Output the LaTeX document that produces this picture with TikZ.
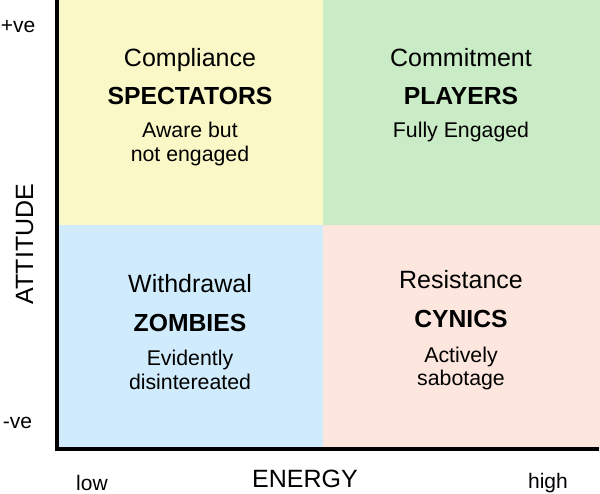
\documentclass[tikz,border=0pt]{standalone}
\usepackage{fontspec}
\setmainfont{Liberation Sans}
\usetikzlibrary{positioning,calc}

\definecolor{spectfill}{HTML}{FAF8C6}
\definecolor{playfill}{HTML}{C9EBC5}
\definecolor{zombfill}{HTML}{D0EBFC}
\definecolor{cynfill}{HTML}{FDE6DE}

\begin{document}
\begin{tikzpicture}[x=1pt, y=-1pt, every node/.style={inner sep=0pt, anchor=base}]
            \tikzstyle{mode}=[font=\fontsize{25}{30}\selectfont]
            \tikzstyle{group}=[font=\fontsize{24.7}{29}\selectfont\bfseries]
            \tikzstyle{desc}=[font=\fontsize{21.3}{25}\selectfont]
            \tikzstyle{endlabel}=[font=\fontsize{21}{25}\selectfont]
            \tikzstyle{axislabel}=[font=\fontsize{25}{30}\selectfont]
            \useasboundingbox (0,0) rectangle (600,493);
            % quadrants
            \fill[spectfill] (57,0) rectangle (323,225);
            \fill[playfill] (323,0) rectangle (600,225);
            \fill[zombfill] (57,225) rectangle (323,449);
            \fill[cynfill] (323,225) rectangle (600,449);
            % axes
            \coordinate (top) at (57,0);
            \coordinate (origin) at (57,449);
            \coordinate (right) at (599,449);
            \draw[line width=3.5pt] (top) -- (origin) -- (right);
            % top left
            \node[mode] (compl) at (190,66) {Compliance};
            \node[group] (spect) at (190,104) {SPECTATORS};
            \node[desc] (aware) at (190,137) {Aware but};
            \node[desc] (noteng) at (190,161) {not engaged};
            % top right
            \node[mode] (commit) at (461,66) {Commitment};
            \node[group] (players) at (461,104) {PLAYERS};
            \node[desc] (fully) at (461,137) {Fully Engaged};
            % bottom left
            \node[mode] (withdr) at (190,292) {Withdrawal};
            \node[group] (zombies) at (190,331) {ZOMBIES};
            \node[desc] (evid) at (190,365) {Evidently};
            \node[desc] (disint) at (190,389) {disintereated};
            % bottom right
            \node[mode] (resist) at (461,288) {Resistance};
            \node[group] (cynics) at (461,327) {CYNICS};
            \node[desc] (active) at (461,362) {Actively};
            \node[desc] (sabot) at (461,385) {sabotage};
            % axis labels
            \node[endlabel] (pos) at (18,32) {+ve};
            \node[endlabel] (neg) at (17.5,428) {-ve};
            \node[endlabel] (low) at (92,490) {low};
            \node[endlabel] (high) at (548,488) {high};
            \node[axislabel] (energy) at (305,487) {ENERGY};
            \node[axislabel, rotate=90] (attitude) at (33,244) {ATTITUDE};
        \end{tikzpicture}
\end{document}
